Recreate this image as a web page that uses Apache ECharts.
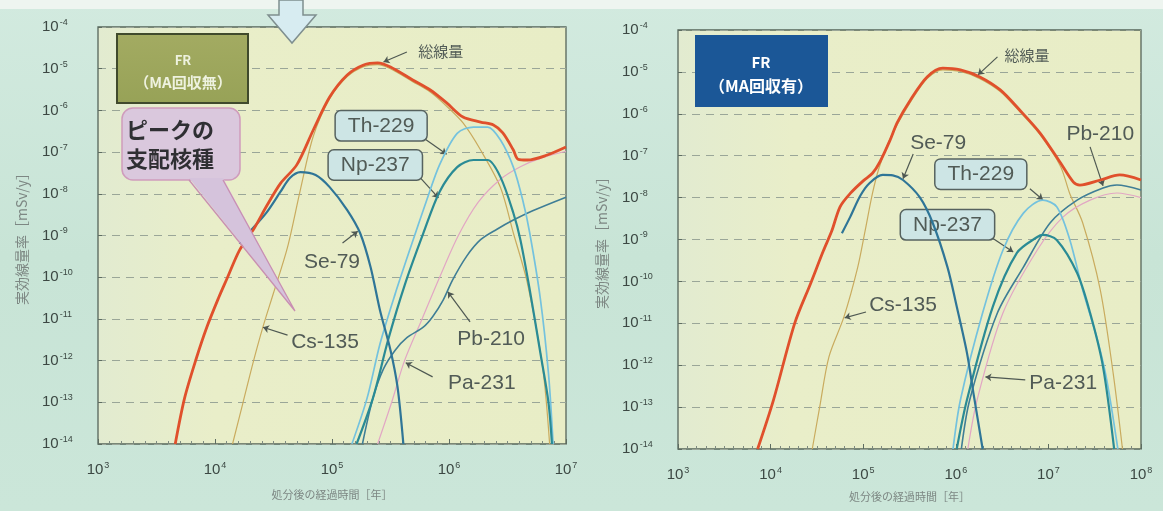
<!DOCTYPE html>
<html>
<head>
<meta charset="utf-8">
<script src="https://cdn.jsdelivr.net/npm/echarts@6/dist/echarts.min.js"></script>
<style>
  html, body { margin: 0; padding: 0; background: #c8e4d6; }
  #chart { width: 1163px; height: 511px; }
</style>
</head>
<body>
<div id="chart"></div>
<script>
// Effective dose rate after disposal, FR cycle without / with MA recovery.
// Every point is [log10(years after disposal), log10(dose rate in mSv/y)].

// ---- axis ticks (decade exponents) ----
const yTicks  = [-14, -13, -12, -11, -10, -9, -8, -7, -6, -5, -4];
const xTicksA = [3, 4, 5, 6, 7];
const xTicksB = [3, 4, 5, 6, 7, 8];

// ---- FR (MA回収無) ----
const totalA = [[3.66,-14],[3.74,-12.9],[3.84,-11.95],[3.93,-11.2],[4.03,-10.5],[4.10,-10.05],[4.21,-9.35],[4.33,-8.85],[4.44,-8.3],[4.56,-7.75],[4.70,-7.3],[4.84,-6.47],[4.98,-5.68],[5.13,-5.15],[5.27,-4.91],[5.39,-4.86],[5.50,-4.96],[5.69,-5.27],[5.84,-5.51],[5.98,-5.82],[6.12,-6.16],[6.27,-6.28],[6.38,-6.35],[6.46,-6.54],[6.55,-6.95],[6.59,-7.17],[6.67,-7.19],[6.84,-7.07],[7.00,-6.88]];
const cs135A = [[4.15,-14],[4.24,-13],[4.33,-12],[4.41,-11.19],[4.50,-10.38],[4.62,-9.28],[4.73,-7.9],[4.84,-6.62],[4.98,-5.72],[5.13,-5.19],[5.27,-4.95],[5.39,-4.9],[5.50,-5.0],[5.69,-5.31],[5.84,-5.56],[5.98,-5.9],[6.12,-6.3],[6.27,-6.95],[6.44,-7.85],[6.55,-8.94],[6.67,-10.14],[6.80,-12.15],[6.86,-14]];
const se79A  = [[4.21,-9.2],[4.30,-8.9],[4.44,-8.45],[4.56,-7.95],[4.64,-7.62],[4.73,-7.48],[4.86,-7.55],[4.98,-7.84],[5.13,-8.39],[5.24,-8.94],[5.33,-9.76],[5.41,-10.79],[5.50,-11.75],[5.56,-12.63],[5.61,-14]];
const th229A = [[5.17,-14],[5.30,-12.9],[5.41,-11.6],[5.54,-10.4],[5.67,-9.3],[5.81,-8.15],[5.92,-7.3],[6.07,-6.55],[6.21,-6.4],[6.33,-6.4],[6.44,-6.71],[6.55,-7.36],[6.63,-8.15],[6.69,-8.94],[6.78,-10.5],[6.85,-12.3],[6.89,-14]];
const np237A = [[5.21,-14],[5.35,-12.9],[5.48,-11.5],[5.62,-10.2],[5.78,-8.95],[5.92,-7.95],[6.07,-7.36],[6.21,-7.19],[6.33,-7.19],[6.44,-7.6],[6.55,-8.46],[6.61,-9.1],[6.69,-10.3],[6.78,-11.8],[6.85,-13],[6.88,-14]];
const pa231A = [[5.39,-14],[5.51,-13],[5.62,-12],[5.77,-11],[5.92,-10],[6.08,-9],[6.25,-8.2],[6.44,-7.65],[6.61,-7.35],[6.78,-7.15],[7.00,-6.98]];
const pb210A = [[5.26,-14],[5.35,-12.9],[5.44,-12.2],[5.54,-11.75],[5.64,-11.45],[5.78,-11.2],[5.86,-10.95],[5.95,-10.55],[6.03,-10.07],[6.15,-9.5],[6.27,-9.1],[6.41,-8.85],[6.55,-8.63],[6.72,-8.4],[7.00,-8.08]];

// ---- FR (MA回収有) ----
const totalB = [[3.86,-14],[4.03,-12.84],[4.26,-11.0],[4.43,-10.06],[4.57,-9.27],[4.66,-8.8],[4.75,-8.22],[4.86,-7.9],[5.00,-7.6],[5.10,-7.42],[5.18,-7.15],[5.29,-6.63],[5.37,-6.2],[5.51,-5.67],[5.69,-5.12],[5.86,-4.91],[6.05,-4.95],[6.26,-5.12],[6.48,-5.43],[6.69,-5.91],[6.91,-6.46],[7.13,-7.17],[7.27,-7.63],[7.34,-7.7],[7.56,-7.58],[7.77,-7.46],[8.00,-7.58]];
const cs135B = [[4.45,-14],[4.53,-13],[4.63,-11.8],[4.79,-10.86],[4.94,-9.67],[5.02,-8.8],[5.10,-7.9],[5.17,-7.3],[5.26,-6.75],[5.37,-6.25],[5.51,-5.72],[5.69,-5.16],[5.86,-4.95],[6.05,-4.99],[6.26,-5.16],[6.48,-5.47],[6.69,-5.95],[6.91,-6.5],[7.13,-7.25],[7.23,-7.9],[7.37,-8.6],[7.56,-10.2],[7.70,-12.2],[7.80,-14]];
const se79B  = [[4.77,-8.85],[4.86,-8.46],[4.97,-7.95],[5.07,-7.65],[5.21,-7.46],[5.32,-7.47],[5.43,-7.58],[5.61,-7.99],[5.75,-8.6],[5.91,-9.66],[6.01,-10.6],[6.12,-11.7],[6.19,-12.66],[6.29,-14]];
const th229B = [[5.97,-14],[6.05,-12.83],[6.29,-10.75],[6.51,-9.25],[6.73,-8.37],[6.94,-8.06],[7.09,-8.22],[7.23,-9.0],[7.37,-10.2],[7.53,-11.4],[7.63,-12.35],[7.75,-14]];
const np237B = [[6.01,-14],[6.12,-12.83],[6.40,-10.6],[6.66,-9.32],[6.88,-8.94],[6.94,-8.89],[7.09,-9.01],[7.31,-9.8],[7.45,-10.75],[7.59,-12.04],[7.71,-14]];
const pa231B = [[6.13,-14],[6.23,-12.83],[6.51,-10.75],[6.88,-9.25],[7.16,-8.46],[7.45,-8.06],[7.74,-7.89],[8.00,-8.0]];
const pb210B = [[6.06,-14],[6.15,-12.83],[6.45,-10.75],[6.73,-9.66],[7.02,-8.6],[7.31,-8.06],[7.59,-7.77],[7.74,-7.7],[8.00,-7.82]];

// ---- drawing styles ----
const LATIN = '"Liberation Sans", Arial, sans-serif';
const JP = '"Noto Sans CJK JP", sans-serif';
const style = {
  total: { color: '#e0502c', width: 2.8, z: 9 },
  cs135: { color: '#c9ab5e', width: 1.2, z: 3 },
  pa231: { color: '#e2a6c4', width: 1.2, z: 3 },
  pb210: { color: '#3f7e96', width: 1.6, z: 4 },
  th229: { color: '#74c2de', width: 1.7, z: 5 },
  np237: { color: '#2a8b95', width: 2.2, z: 6 },
  se79:  { color: '#2f7597', width: 2.2, z: 6 }
};

// label placement in axis units: text centre, pointer start, pointer end
const notesA = [
  { text: '総線量', at: [5.93, -4.58], jp: true, from: [5.64, -4.60], to: [5.44, -4.84] },
  { text: 'Th-229', at: [5.42, -6.37], box: true, from: [5.77, -6.64], to: [5.98, -7.05] },
  { text: 'Np-237', at: [5.37, -7.31], box: true, from: [5.74, -7.57], to: [5.91, -8.1] },
  { text: 'Se-79',  at: [5.00, -9.64], from: [5.09, -9.18], to: [5.22, -8.9] },
  { text: 'Cs-135', at: [4.94, -11.55], from: [4.62, -11.39], to: [4.41, -11.2] },
  { text: 'Pb-210', at: [6.36, -11.48], from: [6.18, -11.07], to: [5.99, -10.35] },
  { text: 'Pa-231', at: [6.28, -12.54], from: [5.86, -12.39], to: [5.63, -12.05] }
];
const notesB = [
  { text: '総線量', at: [6.77, -4.60], jp: true, from: [6.45, -4.64], to: [6.24, -5.07] },
  { text: 'Pb-210', at: [7.56, -6.48], from: [7.45, -6.79], to: [7.59, -7.72] },
  { text: 'Se-79',  at: [5.81, -6.70], from: [5.54, -6.96], to: [5.43, -7.55] },
  { text: 'Th-229', at: [6.27, -7.44], box: true, from: [6.80, -7.79], to: [6.94, -8.05] },
  { text: 'Np-237', at: [5.91, -8.65], box: true, from: [6.39, -8.96], to: [6.62, -9.3] },
  { text: 'Cs-135', at: [5.43, -10.56], from: [5.03, -10.73], to: [4.80, -10.87] },
  { text: 'Pa-231', at: [7.16, -12.42], from: [6.75, -12.35], to: [6.32, -12.28] }
];

function expLabel(v) { return '{b|10}{s|' + Math.round(v) + '}'; }
const labelRich = {
  b: { fontSize: 15, fontFamily: LATIN, color: '#3c4843', lineHeight: 18 },
  s: { fontSize: 9, fontFamily: LATIN, color: '#3c4843', verticalAlign: 'top', lineHeight: 9, padding: [0, 0, 0, 1] }
};

const plotFill = new echarts.graphic.LinearGradient(0, 0, 1, 0, [
  { offset: 0, color: '#e2ebd0' }, { offset: 0.25, color: '#e9eec9' }, { offset: 1, color: '#e8edc6' }
]);

function xAxisFor(i, ticks, gap) {
  return {
    type: 'value', gridIndex: i, min: ticks[0], max: ticks[ticks.length - 1], interval: 1,
    axisLine: { show: false },
    axisTick: { show: true, inside: true, length: 5, lineStyle: { color: '#5d6c61' } },
    minorTick: { show: true, splitNumber: 10, length: 3, lineStyle: { color: '#7d8a80' } },
    splitLine: { show: false },
    axisLabel: { margin: 17, formatter: expLabel, rich: labelRich },
    name: '処分後の経過時間［年］', nameLocation: 'middle', nameGap: gap,
    nameTextStyle: { fontFamily: JP, fontSize: 11, color: '#7d8783' }
  };
}
function yAxisFor(i) {
  return {
    type: 'value', gridIndex: i, min: yTicks[0], max: yTicks[yTicks.length - 1], interval: 1,
    axisLine: { show: false },
    axisTick: { show: true, inside: true, length: 4, lineStyle: { color: '#5d6c61' } },
    splitLine: { show: true, lineStyle: { type: [8, 6], color: '#9aa698', width: 1 } },
    axisLabel: { margin: 56, align: 'left', formatter: expLabel, rich: labelRich },
    name: '実効線量率［mSv/y］', nameLocation: 'middle', nameRotate: 90, nameGap: 69,
    nameTextStyle: { fontFamily: JP, fontSize: 14, color: '#7d8783' }
  };
}

function noteMarks(notes) {
  return {
    markPoint: {
      silent: true, animation: false,
      data: notes.map(n => ({
        coord: n.at, symbol: 'rect', symbolSize: 1, itemStyle: { color: 'rgba(0,0,0,0)' },
        label: Object.assign({
          show: true, position: 'inside', formatter: n.text,
          fontFamily: n.jp ? JP : LATIN, fontSize: n.jp ? 15 : 21, color: '#515b56'
        }, n.box ? {
          backgroundColor: '#cde5e5', borderColor: '#56625f', borderWidth: 1.5, borderRadius: 5,
          padding: [4, 12, 3, 12], lineHeight: 22
        } : {})
      }))
    },
    markLine: {
      silent: true, animation: false, symbol: ['none', 'arrow'], symbolSize: 6,
      lineStyle: { color: '#4e5852', width: 1.2, type: 'solid' },
      label: { show: false },
      data: notes.map(n => [{ coord: n.from }, { coord: n.to }])
    }
  };
}

function panelSeries(i, sets, notes) {
  return sets.map(([key, data]) => {
    const s = {
      type: 'line', name: key, xAxisIndex: i, yAxisIndex: i, data: data,
      symbol: 'none', smooth: 0.3, clip: true, z: style[key].z, silent: true, animation: false,
      lineStyle: { color: style[key].color, width: style[key].width }
    };
    if (key === 'total') Object.assign(s, noteMarks(notes));
    return s;
  });
}

const series = [].concat(
  panelSeries(0, [['cs135', cs135A], ['pa231', pa231A], ['pb210', pb210A], ['th229', th229A], ['np237', np237A], ['se79', se79A], ['total', totalA]], notesA),
  panelSeries(1, [['cs135', cs135B], ['pa231', pa231B], ['pb210', pb210B], ['th229', th229B], ['np237', np237B], ['se79', se79B], ['total', totalB]], notesB)
);

const graphic = [
  // pale band along the top edge
  { type: 'rect', shape: { x: 0, y: 0, width: 1163, height: 9 }, style: { fill: '#eef5f0' }, z: 1 },
  // downward arrow
  { type: 'polygon', shape: { points: [[279, 0], [303, 0], [303, 15], [316, 15], [292, 43], [268, 15], [279, 15]] },
    style: { fill: '#d7ecf1', stroke: '#7f8f8f', lineWidth: 1.5 }, z: 100 },
  // FR (MA回収無) tag
  { type: 'rect', shape: { x: 117, y: 34, width: 131, height: 69 },
    style: { fill: new echarts.graphic.LinearGradient(0, 0, 0, 1, [{ offset: 0, color: '#a3ab62' }, { offset: 1, color: '#97a257' }]), stroke: '#404a2c', lineWidth: 2 }, z: 100 },
  { type: 'text', x: 183, y: 60, style: { text: 'FR', fill: '#eef2df', font: 'bold 13px ' + JP, align: 'center', verticalAlign: 'middle' }, z: 101 },
  { type: 'text', x: 183, y: 82, style: { text: '（MA回収無）', fill: '#eef2df', font: 'bold 15px ' + JP, align: 'center', verticalAlign: 'middle' }, z: 101 },
  // FR (MA回収有) tag
  { type: 'rect', shape: { x: 695, y: 35, width: 133, height: 72 }, style: { fill: '#1b5797' }, z: 100 },
  { type: 'text', x: 761, y: 62, style: { text: 'FR', fill: '#ffffff', font: 'bold 15px ' + JP, align: 'center', verticalAlign: 'middle' }, z: 101 },
  { type: 'text', x: 761, y: 86, style: { text: '（MA回収有）', fill: '#ffffff', font: 'bold 16px ' + JP, align: 'center', verticalAlign: 'middle' }, z: 101 },
  // callout: ピークの支配核種
  { type: 'rect', shape: { x: 122, y: 108, width: 118, height: 72, r: 11 },
    style: { fill: '#dac8dd', stroke: '#cf9cbc', lineWidth: 1.5 }, z: 100 },
  { type: 'polygon', shape: { points: [[189, 178], [223, 178], [295, 311]] },
    style: { fill: '#d5c3dc' }, z: 101 },
  { type: 'polyline', shape: { points: [[189, 180], [295, 311], [223, 180]] },
    style: { fill: null, stroke: '#c98fb2', lineWidth: 1.3 }, z: 102 },
  { type: 'text', x: 126, y: 130, style: { text: 'ピークの', fill: '#2f2f33', font: 'bold 22px ' + JP, align: 'left', verticalAlign: 'middle' }, z: 103 },
  { type: 'text', x: 126, y: 159, style: { text: '支配核種', fill: '#2f2f33', font: 'bold 22px ' + JP, align: 'left', verticalAlign: 'middle' }, z: 103 }
];

const option = {
  animation: false,
  backgroundColor: new echarts.graphic.LinearGradient(0, 0, 0, 1, [
    { offset: 0, color: '#d2eadf' }, { offset: 0.5, color: '#c8e4d6' }, { offset: 1, color: '#cbe6d9' }
  ]),
  grid: [
    { left: 98, top: 27, width: 468, height: 417, show: true, backgroundColor: plotFill, borderColor: '#56655a', borderWidth: 1.3 },
    { left: 678, top: 30, width: 463, height: 419, show: true, backgroundColor: plotFill, borderColor: '#56655a', borderWidth: 1.3 }
  ],
  xAxis: [xAxisFor(0, xTicksA, 45), xAxisFor(1, xTicksB, 42)],
  yAxis: [yAxisFor(0), yAxisFor(1)],
  series: series,
  graphic: graphic
};

const chart = echarts.init(document.getElementById('chart'), null, { renderer: 'canvas' });
chart.setOption(option);
</script>
</body>
</html>
